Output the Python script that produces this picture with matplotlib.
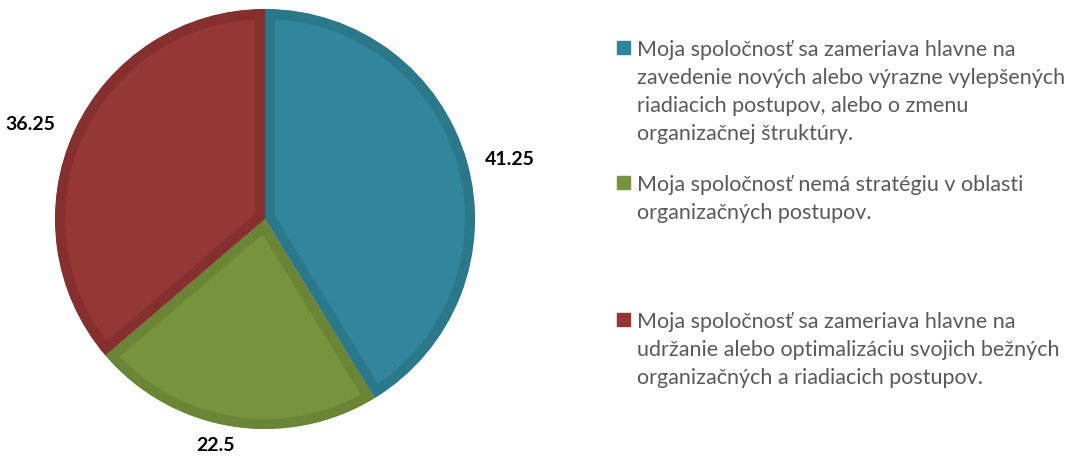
import matplotlib
matplotlib.use("Agg")
from matplotlib import pyplot as plt

values = [41.25, 22.5, 36.25]
value_labels = ["41.25", "22.5", "36.25"]
legend_labels = [
    "Moja spoločnosť sa zameriava hlavne na\nzavedenie nových alebo výrazne vylepšených\nriadiacich postupov, alebo o zmenu\norganizačnej štruktúry.",
    "Moja spoločnosť nemá stratégiu v oblasti\norganizačných postupov.",
    "Moja spoločnosť sa zameriava hlavne na\nudržanie alebo optimalizáciu svojich bežných\norganizačných a riadiacich postupov.",
]

fill_colors = ["#31859c", "#77933c", "#953735"]
edge_colors = ["#2c788b", "#6a8535", "#852f2e"]

# where the value labels sit (pie radius = 1)
label_pos = [(1.167, 0.29), (-0.238, -1.075), (-1.119, 0.455)]
# legend rows: baseline of the first line, in pixels from the top
legend_base = [56, 191, 328]
line_step = 28

W, H = 1076, 460
fig = plt.figure(figsize=(W / 100, H / 100), dpi=100)

cx, cy, r = 265, 220, 210
ax = fig.add_axes([(cx - r) / W, (H - cy - r) / H, 2 * r / W, 2 * r / H])
wedges, _ = ax.pie(values, colors=fill_colors, startangle=90, counterclock=False,
                   radius=1.0, wedgeprops=dict(linewidth=14.5))
for w, ec in zip(wedges, edge_colors):
    w.set_edgecolor(ec)
    # keep only the inner half of the stroke
    w.set_clip_on(True)
    w.set_clip_path(w)
ax.set_xlim(-1, 1)
ax.set_ylim(-1, 1)
ax.set_aspect("equal")
ax.axis("off")

for (x, y), t in zip(label_pos, value_labels):
    ax.text(x, y, t, ha="center", va="center", fontsize=14,
            fontweight="bold", family="Lato", color="black")

for base, lab, col in zip(legend_base, legend_labels, fill_colors):
    fig.patches.append(plt.Rectangle((617 / W, 1 - (base - 1) / H), 13 / W, 13 / H,
                                     transform=fig.transFigure, color=col))
    for i, line in enumerate(lab.split("\n")):
        fig.text(637 / W, 1 - (base + i * line_step) / H, line, ha="left",
                 va="baseline", fontsize=15.5, family="Lato", color="#595959")

fig.savefig("out.png", dpi=100)
